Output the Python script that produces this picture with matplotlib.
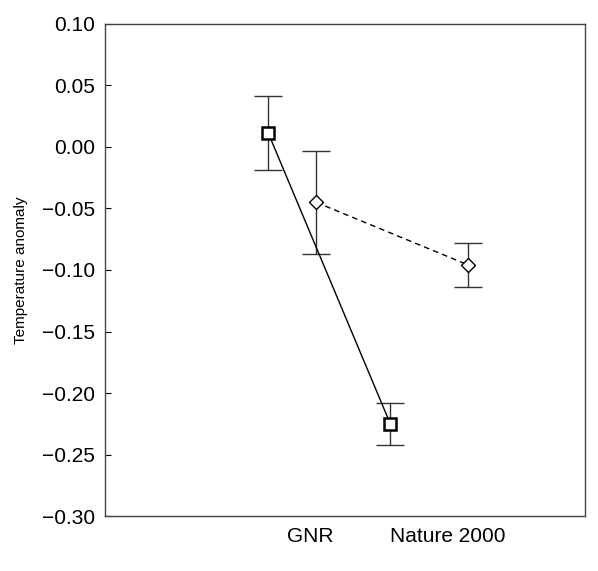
import matplotlib
matplotlib.use("Agg")
import matplotlib.pyplot as plt

plt.rcParams['font.family'] = ['Liberation Sans', 'DejaVu Sans']

categories = ['GNR', 'Nature 2000']
cat_pos = [1, 2]

# solid series (squares)
sq_x = [0.69, 1.58]
sq_y = [0.0114, -0.225]
sq_err = [0.030, 0.017]

# dashed series (diamonds)
dm_x = [1.04, 2.15]
dm_y = [-0.045, -0.096]
dm_err = [0.042, 0.018]

yticks = [0.10, 0.05, 0.00, -0.05, -0.10, -0.15, -0.20, -0.25, -0.30]

fig = plt.figure(figsize=(5.98, 5.71), dpi=100)
ax = fig.add_axes([0.1756, 0.0963, 0.8027, 0.8617])

# error bars first, then lines and markers on top
ax.errorbar(sq_x, sq_y, yerr=sq_err, fmt='none', ecolor='#333333',
            elinewidth=1.0, capsize=10, capthick=1.0, zorder=2)
ax.errorbar(dm_x, dm_y, yerr=dm_err, fmt='none', ecolor='#333333',
            elinewidth=1.0, capsize=10, capthick=1.0, zorder=2)

ax.plot(sq_x, sq_y, color='black', lw=1.0, ls='-',
        marker='s', ms=8, mfc='white', mec='black', mew=1.8, zorder=3)
ax.plot(dm_x, dm_y, color='black', lw=1.0, ls=(0, (4, 3)),
        marker='D', ms=7, mfc='white', mec='black', mew=1.0, zorder=3)

ax.set_xlim(-0.5, 3.0)
ax.set_ylim(-0.30, 0.10)
ax.set_yticks(yticks)
ax.set_yticklabels(['%.2f' % v if v >= 0 else '\u2212%.2f' % abs(v) for v in yticks])
ax.set_xticks(cat_pos)
ax.set_xticklabels(categories)
ax.tick_params(axis='x', length=0, labelsize=15, pad=8)
ax.tick_params(axis='y', direction='in', length=4, labelsize=15, pad=7)
ax.set_ylabel('Temperature anomaly', fontsize=11, labelpad=10)

for s in ax.spines.values():
    s.set_color('#444444')
    s.set_linewidth(1.0)

fig.savefig('out.png', dpi=100)
